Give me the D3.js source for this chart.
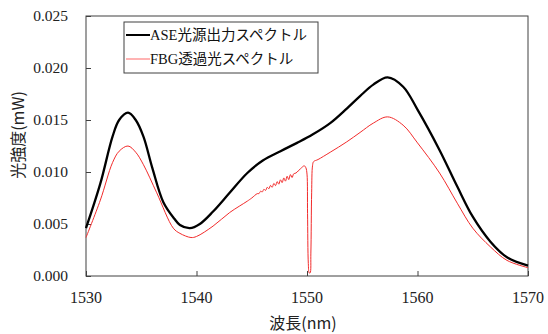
<!DOCTYPE html>
<html>
<head>
<meta charset="utf-8">
<script src="https://cdn.jsdelivr.net/npm/d3@7"></script>
<style>
body { margin: 0; background: #fff; }
</style>
</head>
<body>
<div id="chart"></div>
<script>
// wavelength (nm) and power (mW)
var aseWl = [1530, 1531.3, 1532.4, 1533, 1533.8, 1534.5, 1535.2, 1536, 1537, 1538, 1538.5, 1539.4,
    1540.3, 1541.5, 1543, 1544.6, 1546, 1547.6, 1549.1, 1550.5, 1552.1, 1553.6, 1554.8, 1556, 1557.3,
    1558.7, 1560, 1562, 1563.6, 1565, 1566.6, 1568.1, 1570];
var asePow = [0.0046, 0.0089, 0.0134, 0.0150, 0.0157, 0.0150, 0.0134, 0.0104, 0.0071, 0.0055, 0.0049, 0.0046,
    0.0050, 0.0062, 0.0080, 0.0099, 0.0111, 0.0120, 0.0128, 0.0136, 0.0147, 0.0161, 0.0173, 0.0184, 0.0191,
    0.0182, 0.0160, 0.0121, 0.0086, 0.0057, 0.0033, 0.0018, 0.0010];

var fbgWl = [1530, 1531.3, 1532.4, 1533, 1533.8, 1534.5, 1535.2, 1536.4, 1537.9, 1538.5, 1539.5, 1540, 1541.5, 1543, 1544.6, 1545,
    1545.5, 1545.65, 1545.8, 1545.95, 1546.1, 1546.25, 1546.4, 1546.55, 1546.7, 1546.85, 1547, 1547.15,
    1547.3, 1547.45, 1547.6, 1547.75, 1547.9, 1548.05, 1548.2, 1548.35, 1548.5, 1548.65, 1548.8,
    1549, 1549.2, 1549.4, 1549.6, 1549.75, 1549.9, 1550, 1550.05, 1550.12, 1550.2, 1550.28, 1550.35, 1550.42, 1550.5, 1550.6,
    1551, 1552.1, 1553.6, 1554.8, 1556, 1557.3, 1558.7, 1560, 1562, 1563.6, 1565, 1566.6, 1568.1, 1570];
var fbgPow = [0.0037, 0.0073, 0.0109, 0.0120, 0.0125, 0.0119, 0.0107, 0.0080, 0.0046, 0.0041, 0.0037, 0.0038, 0.0048, 0.0061, 0.0072, 0.0075,
    0.00792, 0.00792, 0.00815, 0.00808, 0.00834, 0.00823, 0.00853, 0.00839, 0.00871, 0.00853, 0.00890, 0.00869,
    0.00908, 0.00883, 0.00925, 0.00898, 0.00943, 0.00912, 0.00959, 0.00927, 0.00975, 0.00947, 0.00983,
    0.0099, 0.0101, 0.0103, 0.0105, 0.0106, 0.0104, 0.0098, 0.0060, 0.0012, 0.0003, 0.0003, 0.0022, 0.0080, 0.0106, 0.0110,
    0.0112, 0.0119, 0.0129, 0.0138, 0.0147, 0.0153, 0.0145, 0.0128, 0.0099, 0.0070, 0.0046, 0.0028, 0.0015, 0.0008];

var xTicks = [1530, 1540, 1550, 1560, 1570];
var yTicks = [0, 0.005, 0.010, 0.015, 0.020, 0.025];
var seriesNames = ["ASE光源出力スペクトル", "FBG透過光スペクトル"];
var seriesColors = ["#000000", "#f22b2b"];

var width = 548, height = 334;
var plotLeft = 86, plotRight = 528, plotTop = 16, plotBottom = 276;
var serif = "'Liberation Serif', 'Times New Roman', serif";
var jp = "'Liberation Serif', 'Noto Sans CJK JP', serif";

var x = d3.scaleLinear().domain([1530, 1570]).range([plotLeft, plotRight]);
var y = d3.scaleLinear().domain([0, 0.025]).range([plotBottom, plotTop]);

var svg = d3.select("#chart").append("svg")
    .attr("width", width)
    .attr("height", height);

// plot frame
svg.append("rect")
    .attr("x", plotLeft).attr("y", plotTop)
    .attr("width", plotRight - plotLeft).attr("height", plotBottom - plotTop)
    .attr("fill", "none")
    .attr("stroke", "#404040")
    .attr("stroke-width", 1);

// y axis, ticks inside
var yAxis = svg.append("g")
    .attr("transform", "translate(" + plotLeft + ",0)")
    .call(d3.axisRight(y).tickValues(yTicks).tickSize(5).tickFormat(""));
yAxis.select(".domain").remove();
yAxis.selectAll("line").attr("stroke", "#404040");

svg.selectAll(".ylab")
    .data(yTicks)
    .enter().append("text")
    .attr("class", "ylab")
    .attr("x", 68)
    .attr("y", function(d) { return y(d) + 5; })
    .attr("text-anchor", "end")
    .attr("font-family", serif)
    .attr("font-size", 15.5)
    .attr("fill", "#222")
    .text(function(d) { return d3.format(".3f")(d); });

// x axis, ticks inside
var xAxis = svg.append("g")
    .attr("transform", "translate(0," + plotBottom + ")")
    .call(d3.axisTop(x).tickValues(xTicks).tickSize(5).tickFormat(""));
xAxis.select(".domain").remove();
xAxis.selectAll("line").attr("stroke", "#404040");

svg.selectAll(".xlab")
    .data(xTicks)
    .enter().append("text")
    .attr("class", "xlab")
    .attr("x", function(d) { return x(d); })
    .attr("y", 303)
    .attr("text-anchor", "middle")
    .attr("font-family", serif)
    .attr("font-size", 16)
    .attr("fill", "#222")
    .text(function(d) { return d; });

// axis titles
svg.append("text")
    .attr("transform", "translate(24,135) rotate(-90)")
    .attr("text-anchor", "middle")
    .attr("font-family", "'Noto Sans CJK JP', sans-serif")
    .attr("font-size", 16)
    .attr("fill", "#222")
    .text("光強度(mW)");

svg.append("text")
    .attr("x", 303)
    .attr("y", 329)
    .attr("text-anchor", "middle")
    .attr("font-family", "'Noto Sans CJK JP', sans-serif")
    .attr("font-size", 16)
    .attr("fill", "#222")
    .text("波長(nm)");

// lines
var aseData = aseWl.map(function(d, i) { return [d, asePow[i]]; });
var fbgData = fbgWl.map(function(d, i) { return [d, fbgPow[i]]; });

var line = d3.line()
    .x(function(d) { return x(d[0]); })
    .y(function(d) { return y(d[1]); })
    .curve(d3.curveCatmullRom.alpha(0.5));

svg.append("path")
    .datum(fbgData)
    .attr("d", line)
    .attr("fill", "none")
    .attr("stroke", seriesColors[1])
    .attr("stroke-width", 1);

svg.append("path")
    .datum(aseData)
    .attr("d", line)
    .attr("fill", "none")
    .attr("stroke", seriesColors[0])
    .attr("stroke-width", 2.3);

// legend
var lg = svg.append("g");
lg.append("rect")
    .attr("x", 124).attr("y", 22)
    .attr("width", 194).attr("height", 51)
    .attr("fill", "#fff")
    .attr("stroke", "#404040")
    .attr("stroke-width", 1);

var items = lg.selectAll(".item")
    .data(seriesNames)
    .enter().append("g")
    .attr("transform", function(d, i) { return "translate(0," + (35 + i * 24) + ")"; });

items.append("line")
    .attr("x1", 126).attr("x2", 150)
    .attr("y1", 0).attr("y2", 0)
    .attr("stroke", function(d, i) { return i === 0 ? seriesColors[0] : "#ff9a9a"; })
    .attr("stroke-width", function(d, i) { return i === 0 ? 2 : 1.5; });

items.append("text")
    .attr("x", 150)
    .attr("y", 5)
    .attr("font-family", jp)
    .attr("font-size", 14.5)
    .attr("fill", "#111")
    .text(function(d) { return d; });
</script>
</body>
</html>
